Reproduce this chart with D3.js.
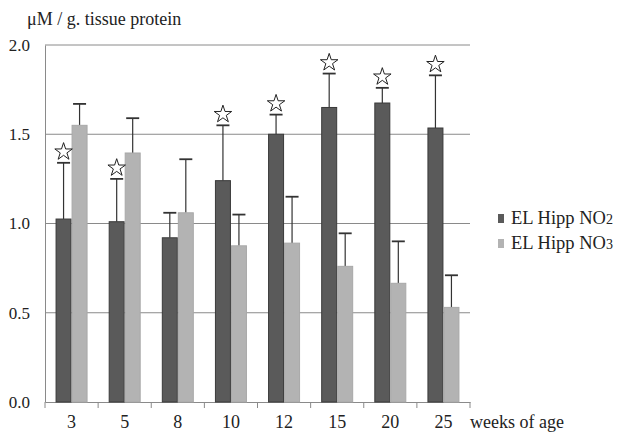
<!DOCTYPE html>
<html><head><meta charset="utf-8">
<script src="https://cdn.jsdelivr.net/npm/d3@7"></script>
<style>body{margin:0;background:#fff;}svg{display:block;font-family:"Liberation Serif","Times New Roman",serif;}</style>
</head><body>
<svg id="c" width="623" height="434"></svg>
<script>
const categories = ["3","5","8","10","12","15","20","25"];
const seriesNames = ["EL Hipp NO2","EL Hipp NO3"];
const no2Values = [1.025, 1.01, 0.92, 1.24, 1.50, 1.65, 1.675, 1.535];
const no2Errors = [1.34, 1.25, 1.06, 1.55, 1.61, 1.84, 1.76, 1.83];
const no3Values = [1.55, 1.395, 1.06, 0.875, 0.89, 0.76, 0.665, 0.53];
const no3Errors = [1.67, 1.59, 1.36, 1.05, 1.15, 0.945, 0.90, 0.71];
const significant = [true, true, false, true, true, true, true, true];
const yTicks = [0.0, 0.5, 1.0, 1.5, 2.0];

(function(){
const svg = d3.select("#c");
const pLeft = 45, pRight = 470, pTop = 45, pBottom = 402;
const x = d3.scaleBand().domain(categories).range([pLeft, pRight]);
const y = d3.scaleLinear().domain([0, 2]).range([pBottom, pTop]);
const barW = 15;
const colors = ["#5a5a5a", "#b3b3b3"];
const strokes = ["#3a3a3a", "#a8a8a8"];

svg.append("g").selectAll("line").data(yTicks.filter(d => d > 0)).join("line")
  .attr("x1", pLeft).attr("x2", pRight).attr("y1", d => y(d)).attr("y2", d => y(d))
  .attr("stroke", "#8a8a8a").attr("stroke-width", 1);

const yAxis = d3.axisLeft(y).tickValues(yTicks).tickFormat(d3.format(".1f")).tickSize(0).tickPadding(15);
const gy = svg.append("g").attr("transform", `translate(${pLeft},0)`).call(yAxis);
gy.select(".domain").attr("stroke", "#8a8a8a");
gy.selectAll("text").attr("font-family", "Liberation Serif, serif").attr("font-size", 17).attr("fill", "#222");

const xAxis = d3.axisBottom(x).tickSize(0).tickPadding(13);
const gx = svg.append("g").attr("transform", `translate(0,${pBottom})`).call(xAxis);
gx.select(".domain").attr("stroke", "#8a8a8a");
gx.selectAll("text").attr("font-family", "Liberation Serif, serif").attr("font-size", 18).attr("fill", "#222");
const bounds = categories.map(c => x(c)).concat([pRight]);
svg.append("g").selectAll("line").data(bounds).join("line")
  .attr("x1", d => d).attr("x2", d => d).attr("y1", pBottom).attr("y2", pBottom + 6)
  .attr("stroke", "#8a8a8a");

const series = [no2Values, no3Values];
const errs = [no2Errors, no3Errors];
const bx = (c, s) => x(c) + x.bandwidth() / 2 - barW + s * (barW + 1) - 0.5;

series.forEach((vals, s) => {
  const g = svg.append("g");
  g.selectAll("line.e").data(categories).join("line").attr("class", "e")
    .attr("x1", (c) => bx(c, s) + barW / 2).attr("x2", (c) => bx(c, s) + barW / 2)
    .attr("y1", (c, i) => y(vals[i])).attr("y2", (c, i) => y(errs[s][i]))
    .attr("stroke", "#333").attr("stroke-width", 1.2);
  g.selectAll("line.cap").data(categories).join("line").attr("class", "cap")
    .attr("x1", (c) => bx(c, s) + 1).attr("x2", (c) => bx(c, s) + barW - 1)
    .attr("y1", (c, i) => y(errs[s][i])).attr("y2", (c, i) => y(errs[s][i]))
    .attr("stroke", "#333").attr("stroke-width", 1.8);
  g.selectAll("rect").data(categories).join("rect")
    .attr("x", c => bx(c, s)).attr("width", barW)
    .attr("y", (c, i) => y(vals[i])).attr("height", (c, i) => y(0) - y(vals[i]))
    .attr("fill", colors[s]).attr("stroke", strokes[s]).attr("stroke-width", 1);
});

const star = d3.symbol().type(d3.symbolStar).size(95);
svg.append("g").selectAll("path").data(categories.filter((c, i) => significant[i])).join("path")
  .attr("d", star)
  .attr("transform", c => {
    const i = categories.indexOf(c);
    return `translate(${bx(c, 0) + barW / 2},${y(no2Errors[i]) - 11})`;
  })
  .attr("fill", "#fff").attr("stroke", "#222").attr("stroke-width", 1);

svg.append("text").attr("x", 27).attr("y", 25).attr("font-size", 18).attr("fill", "#222")
  .text("μM / g. tissue protein");
svg.append("text").attr("x", 470).attr("y", 428).attr("font-size", 18).attr("fill", "#222")
  .text("weeks of age");

const leg = svg.append("g");
seriesNames.forEach((n, s) => {
  const ly = 218 + s * 25;
  leg.append("rect").attr("x", 498).attr("y", ly - 4).attr("width", 6).attr("height", 9).attr("fill", colors[s]);
  const t = leg.append("text").attr("x", 511).attr("y", ly + 6).attr("font-size", 18.5).attr("fill", "#222");
  t.append("tspan").text(n.slice(0, -1));
  t.append("tspan").attr("font-size", 14).text(n.slice(-1));
});
})();
</script>
</body></html>
